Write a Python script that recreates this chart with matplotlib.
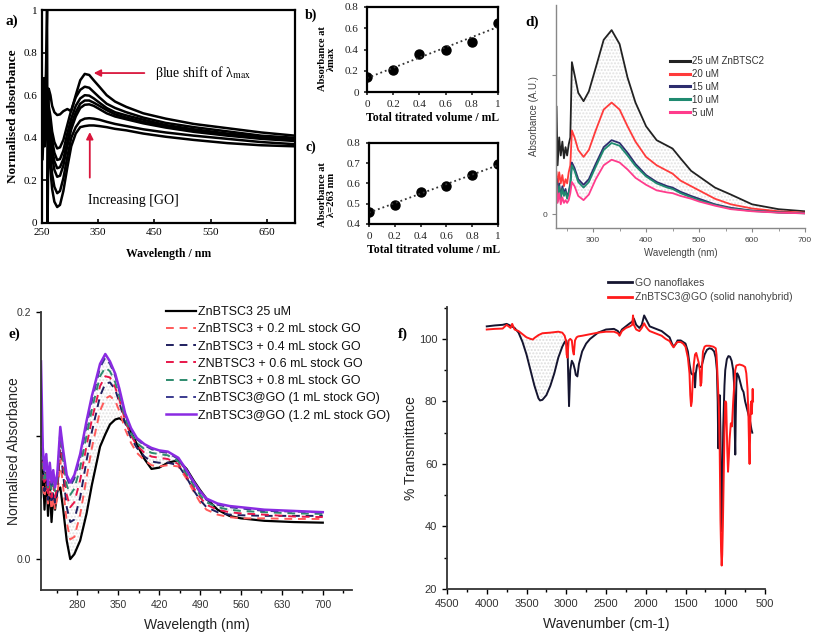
import numpy as np
import matplotlib
matplotlib.use("Agg")
import matplotlib.pyplot as plt

W, H = 813, 639
fig = plt.figure(figsize=(W / 100, H / 100), dpi=100)
plt.rcParams['mathtext.fontset'] = 'stix'
SERIF = ['Liberation Serif', 'DejaVu Serif']
SANS = ['Liberation Sans', 'DejaVu Sans']


def ax_px(l, t, r, b):
    return fig.add_axes([l / W, 1 - b / H, (r - l) / W, (b - t) / H])

# ---------------- panel a data ----------------
a_wl = [251, 253, 255, 257, 259, 260, 262, 265, 268, 272, 277, 282, 288, 295, 302, 310, 318,
        326, 334, 342, 352, 365, 380, 400, 430, 470, 520, 580, 640, 700]
a_curves = [
    [0.55, 0.68, 0.60, 0.70, 1.00, 0.00, 0.63, 0.60, 0.55, 0.52, 0.507, 0.51, 0.525, 0.535, 0.525, 0.60, 0.67,
     0.70, 0.695, 0.67, 0.64, 0.60, 0.57, 0.545, 0.515, 0.49, 0.465, 0.445, 0.425, 0.41],
    [0.50, 0.62, 0.55, 0.66, 0.60, 0.58, 0.55, 0.50, 0.43, 0.38, 0.35, 0.355, 0.39, 0.46, 0.53, 0.59, 0.625,
     0.64, 0.635, 0.615, 0.59, 0.56, 0.54, 0.52, 0.495, 0.47, 0.45, 0.43, 0.41, 0.40],
    [0.45, 0.58, 0.50, 0.62, 0.56, 0.55, 0.52, 0.46, 0.39, 0.33, 0.296, 0.30, 0.34, 0.42, 0.49, 0.55, 0.585,
     0.60, 0.598, 0.585, 0.565, 0.54, 0.52, 0.505, 0.485, 0.46, 0.44, 0.42, 0.405, 0.395],
    [0.42, 0.55, 0.47, 0.60, 0.53, 0.52, 0.49, 0.43, 0.35, 0.29, 0.257, 0.262, 0.30, 0.38, 0.46, 0.52, 0.56,
     0.575, 0.575, 0.565, 0.55, 0.53, 0.51, 0.495, 0.475, 0.455, 0.435, 0.415, 0.40, 0.39],
    [0.40, 0.52, 0.45, 0.57, 0.50, 0.49, 0.46, 0.40, 0.31, 0.25, 0.217, 0.222, 0.27, 0.36, 0.44, 0.50, 0.54,
     0.555, 0.557, 0.55, 0.535, 0.515, 0.50, 0.487, 0.468, 0.448, 0.428, 0.41, 0.395, 0.385],
    [0.35, 0.48, 0.40, 0.52, 0.45, 0.44, 0.40, 0.32, 0.23, 0.17, 0.14, 0.15, 0.21, 0.31, 0.40, 0.45, 0.48,
     0.49, 0.492, 0.49, 0.485, 0.475, 0.465, 0.455, 0.44, 0.425, 0.41, 0.395, 0.38, 0.37],
    [0.30, 0.45, 0.36, 0.48, 0.40, 0.39, 0.34, 0.25, 0.16, 0.10, 0.075, 0.085, 0.15, 0.26, 0.36, 0.42, 0.45,
     0.455, 0.458, 0.458, 0.455, 0.45, 0.442, 0.435, 0.42, 0.405, 0.39, 0.375, 0.365, 0.36],
]

# ---------------- panel b / c data ----------------
vol = [0, 0.2, 0.4, 0.6, 0.8, 1.0]
abs_max = [0.14, 0.21, 0.36, 0.40, 0.47, 0.65]
abs_263 = [0.46, 0.495, 0.56, 0.59, 0.64, 0.695]

# ---------------- panel d data ----------------
d_wl = [231, 233, 236, 239, 242, 245, 248, 251, 254, 257, 260, 265, 272, 282, 292, 305, 320, 335, 350,
        365, 380, 400, 420, 440, 450, 465, 485, 500, 530, 560, 600, 650, 700]
d_labels = ['25 uM ZnBTSC2', '20 uM', '15 uM', '10 uM', '5 uM']
d_colors = ['#222222', '#ff3b3b', '#2d2d6e', '#1f8a70', '#ff3c8c']
d_series = [
    [0.77, 0.35, 0.55, 0.42, 0.52, 0.40, 0.48, 0.42, 0.50, 0.55, 1.09, 1.00, 0.87, 0.81, 0.88, 1.05, 1.25,
     1.32, 1.22, 0.98, 0.80, 0.63, 0.53, 0.49, 0.47, 0.40, 0.31, 0.27, 0.19, 0.14, 0.07, 0.035, 0.02],
    [0.30, 0.20, 0.30, 0.22, 0.28, 0.20, 0.25, 0.22, 0.30, 0.35, 0.60, 0.55, 0.46, 0.41, 0.46, 0.60, 0.75,
     0.80, 0.75, 0.63, 0.52, 0.41, 0.35, 0.31, 0.29, 0.24, 0.20, 0.17, 0.11, 0.07, 0.04, 0.02, 0.01],
    [0.25, 0.10, 0.22, 0.12, 0.20, 0.15, 0.18, 0.12, 0.16, 0.22, 0.37, 0.33, 0.25, 0.21, 0.25, 0.36, 0.48,
     0.53, 0.51, 0.44, 0.36, 0.28, 0.23, 0.20, 0.19, 0.16, 0.13, 0.11, 0.07, 0.045, 0.025, 0.012, 0.006],
    [0.22, 0.09, 0.20, 0.11, 0.18, 0.13, 0.16, 0.11, 0.15, 0.20, 0.35, 0.31, 0.23, 0.19, 0.23, 0.34, 0.46,
     0.51, 0.49, 0.42, 0.345, 0.27, 0.22, 0.19, 0.18, 0.15, 0.12, 0.10, 0.065, 0.04, 0.022, 0.011, 0.005],
    [0.20, 0.08, 0.15, 0.07, 0.12, 0.08, 0.10, 0.08, 0.10, 0.15, 0.23, 0.20, 0.13, 0.10, 0.14, 0.25, 0.35,
     0.39, 0.37, 0.32, 0.26, 0.21, 0.17, 0.155, 0.15, 0.13, 0.11, 0.09, 0.06, 0.035, 0.02, 0.01, 0.005],
]

# ---------------- panel e data ----------------
e_wl = [218, 221, 224, 227, 230, 233, 236, 239, 242, 246, 251, 256, 262, 268, 275, 285, 296, 305, 319,
        328, 336, 345, 352, 362, 372, 382, 395, 407, 420, 435, 453, 467, 480, 490, 501, 520, 540, 560,
        600, 650, 700]
e_labels = ['ZnBTSC3 25 uM', 'ZnBTSC3 + 0.2 mL stock GO', 'ZnBTSC3 + 0.4 mL stock GO',
            'ZNBTSC3 + 0.6 mL stock GO', 'ZnBTSC3 + 0.8 mL stock GO',
            'ZnBTSC3@GO (1 mL stock GO)', 'ZnBTSC3@GO (1.2 mL stock GO)']
e_colors = ['#000000', '#ff5a5a', '#1f1f5f', '#e8174a', '#2e8b6e', '#3b3b8f', '#8a2be2']
e_series = [
    [0.050, 0.080, 0.040, 0.070, 0.035, 0.062, 0.030, 0.052, 0.040, 0.055, 0.058, 0.040, 0.015, 0.000,
     0.004, 0.015, 0.037, 0.060, 0.091, 0.101, 0.109, 0.113, 0.114, 0.111, 0.103, 0.093, 0.081, 0.073,
     0.074, 0.078, 0.080, 0.073, 0.063, 0.056, 0.049, 0.040, 0.035, 0.033, 0.031, 0.030, 0.0295],
    [0.070, 0.060, 0.050, 0.062, 0.045, 0.055, 0.040, 0.050, 0.040, 0.050, 0.080, 0.058, 0.030, 0.016,
     0.018, 0.036, 0.066, 0.090, 0.120, 0.130, 0.132, 0.128, 0.120, 0.105, 0.094, 0.086, 0.080, 0.076,
     0.075, 0.076, 0.075, 0.065, 0.054, 0.046, 0.040, 0.036, 0.034, 0.033, 0.033, 0.0325, 0.0325],
    [0.080, 0.070, 0.055, 0.068, 0.048, 0.060, 0.045, 0.055, 0.045, 0.055, 0.090, 0.068, 0.042, 0.030,
     0.032, 0.050, 0.080, 0.103, 0.132, 0.142, 0.143, 0.137, 0.127, 0.110, 0.098, 0.090, 0.083, 0.079,
     0.078, 0.078, 0.076, 0.066, 0.055, 0.048, 0.042, 0.038, 0.036, 0.0355, 0.035, 0.035, 0.035],
    [0.090, 0.075, 0.060, 0.072, 0.052, 0.065, 0.050, 0.060, 0.050, 0.060, 0.095, 0.075, 0.052, 0.042,
     0.046, 0.064, 0.092, 0.113, 0.140, 0.148, 0.147, 0.139, 0.129, 0.112, 0.100, 0.092, 0.086, 0.083,
     0.082, 0.081, 0.077, 0.067, 0.057, 0.050, 0.044, 0.040, 0.038, 0.037, 0.036, 0.0345, 0.034],
    [0.100, 0.080, 0.065, 0.078, 0.058, 0.070, 0.055, 0.065, 0.055, 0.065, 0.100, 0.080, 0.060, 0.052,
     0.057, 0.074, 0.100, 0.121, 0.148, 0.155, 0.152, 0.143, 0.132, 0.114, 0.102, 0.094, 0.089, 0.086,
     0.085, 0.084, 0.079, 0.069, 0.059, 0.052, 0.046, 0.042, 0.040, 0.039, 0.038, 0.037, 0.0366],
    [0.120, 0.085, 0.070, 0.080, 0.062, 0.072, 0.060, 0.068, 0.060, 0.068, 0.104, 0.085, 0.066, 0.059,
     0.065, 0.082, 0.108, 0.128, 0.155, 0.163, 0.158, 0.148, 0.136, 0.117, 0.105, 0.097, 0.092, 0.089,
     0.087, 0.086, 0.081, 0.071, 0.061, 0.054, 0.048, 0.044, 0.042, 0.041, 0.039, 0.0385, 0.0378],
    [0.160, 0.090, 0.072, 0.085, 0.060, 0.078, 0.062, 0.072, 0.058, 0.070, 0.107, 0.088, 0.068, 0.062,
     0.068, 0.085, 0.112, 0.132, 0.158, 0.166, 0.160, 0.150, 0.138, 0.118, 0.106, 0.098, 0.093, 0.090,
     0.088, 0.087, 0.082, 0.072, 0.062, 0.055, 0.049, 0.045, 0.043, 0.042, 0.040, 0.039, 0.038],
]

# ---------------- panel f data ----------------
go_wn = [4000, 3900, 3800, 3750, 3700, 3650, 3600, 3550, 3500, 3450, 3400, 3350, 3330, 3300, 3250, 3200,
         3150, 3100, 3050, 3020, 3000, 2985, 2975, 2965, 2950, 2930, 2910, 2890, 2880, 2860, 2840, 2800,
         2750, 2700, 2600, 2500, 2400, 2350, 2330, 2300, 2250, 2200, 2170, 2150, 2120, 2080, 2050, 2030,
         2020, 2000, 1970, 1950, 1900, 1850, 1800, 1750, 1700, 1670, 1650, 1620, 1600, 1560, 1530, 1500,
         1470, 1450, 1430, 1410, 1390, 1380, 1370, 1355, 1340, 1320, 1300, 1280, 1260, 1230, 1200, 1170,
         1140, 1120, 1105, 1095, 1088, 1080, 1070, 1060, 1050, 1042, 1035, 1025, 1010, 1000, 980, 960,
         940, 920, 900, 890, 880, 874, 868, 860, 850, 830, 810, 790, 770, 750, 730, 710, 690, 670, 660]
go_T = [104, 104.3, 104.5, 104.8, 104.2, 103.5, 102, 99, 95, 90, 85, 81, 80.3, 80.5, 82, 85,
        89, 94, 97.5, 99, 99.5, 98, 88, 78.5, 90, 93, 92, 90, 88.5, 88, 92, 96,
        98.5, 100, 102, 103, 103.2, 102.5, 101.5, 103, 104, 105, 105.5, 106.5, 104.5, 103.5, 104.5, 106.5,
        107.5, 106.5, 105, 104, 103.5, 103, 102.5, 101.5, 100.5, 98.5, 97.5, 98.5, 99.5, 99.5, 99, 98.5,
        96, 92, 89, 88.5, 89, 84.5, 89, 91.5, 92, 91, 91, 93, 95, 96.5, 97, 96.8,
        96, 94, 90, 80, 65, 75, 82, 70, 45, 38.5, 55, 72, 85, 90, 93.5, 94.5,
        94.3, 93, 90, 86, 70, 63, 75, 86, 89, 88, 86, 84, 83, 80, 78, 76, 74, 71, 70]
hy_wn = [4000, 3900, 3800, 3750, 3700, 3680, 3650, 3600, 3550, 3500, 3450, 3420, 3400, 3350, 3300, 3200,
         3100, 3050, 3020, 3005, 2995, 2985, 2970, 2950, 2930, 2915, 2905, 2890, 2870, 2850, 2800, 2700,
         2600, 2500, 2400, 2350, 2330, 2300, 2250, 2200, 2170, 2160, 2150, 2120, 2080, 2050, 2020, 2000,
         1970, 1950, 1900, 1850, 1800, 1750, 1700, 1670, 1650, 1620, 1600, 1560, 1530, 1500, 1470, 1450,
         1440, 1430, 1420, 1410, 1395, 1380, 1365, 1350, 1335, 1320, 1310, 1300, 1290, 1280, 1260, 1240,
         1200, 1150, 1120, 1110, 1100, 1090, 1080, 1070, 1060, 1052, 1045, 1038, 1030, 1020, 1010, 1000,
         995, 988, 975, 965, 955, 945, 930, 916, 900, 885, 874, 860, 820, 780, 750, 735, 720, 708, 700,
         694, 688, 680, 672, 666, 660, 655, 650]
hy_T = [103, 103.2, 103.3, 104.5, 103.5, 104.8, 103, 102.5, 101.5, 100.5, 100, 99.8, 100.3, 101.2, 101.8, 102,
        102.3, 102, 101, 99.5, 95, 94, 99.5, 100, 99.5, 96, 95, 99.5, 100.5, 100.8, 101, 101.5,
        102, 102.3, 102.3, 101.8, 101, 102.5, 103.5, 104, 104.5, 107.5, 104.5, 103, 102.5, 103.5, 105, 104,
        103, 102.5, 102, 101.5, 101, 100, 99.3, 98, 97.3, 98.5, 99, 99, 98.5, 97.5, 94, 89,
        82, 78.5, 80, 86, 92, 95, 95.5, 94, 92.5, 90, 85, 86, 92, 96, 97.5, 97.8,
        97.8, 97.5, 97, 95, 90, 84, 78, 65, 42, 32, 27.5, 31, 40, 55, 70, 80,
        80, 79.5, 65, 57.5, 62, 68, 73, 72, 80, 86, 90, 91.5, 91.8, 91.5, 91, 89, 84, 75, 65,
        60, 68, 79, 80, 76, 80, 84, 80]

# ================= panel a =================
ax = ax_px(42, 10, 295, 223)
for c in a_curves:
    ax.plot(a_wl, c, color='black', lw=1.8)
ax.set_xlim(250, 700)
ax.set_ylim(0, 1)
ax.set_xticks([250, 350, 450, 550, 650])
ax.set_yticks([0, 0.2, 0.4, 0.6, 0.8, 1.0])
ax.set_yticklabels(['0', '0.2', '0.4', '0.6', '0.8', '1'])
for s in ax.spines.values():
    s.set_linewidth(1.6)
ax.tick_params(direction='in', length=3, width=1.2, labelsize=8)
for lab in ax.get_xticklabels() + ax.get_yticklabels():
    lab.set_family(SERIF)
ax.set_xlabel('Wavelength / nm', family=SERIF, fontweight='bold', fontsize=8.5, labelpad=8)
ax.set_ylabel('Normalised absorbance', family=SERIF, fontweight='bold', fontsize=9.5)
ax.yaxis.set_label_coords((19 - 42) / 253, 0.5)
red = '#d9163c'
ax.annotate('', xy=(337, 0.704), xytext=(437, 0.704),
            arrowprops=dict(arrowstyle='-|>', color=red, lw=1.3, mutation_scale=10))
ax.text(451, 0.704, 'βlue shift of λ$_{\\rm max}$', family=SERIF, fontsize=10, va='center', ha='left')
ax.annotate('', xy=(335, 0.44), xytext=(335, 0.20),
            arrowprops=dict(arrowstyle='-|>', color=red, lw=1.3, mutation_scale=10))
ax.text(332, 0.105, 'Increasing [GO]', family=SERIF, fontsize=10, va='center', ha='left')
fig.text(5 / W, 1 - 21 / H, 'a)', family=SERIF, fontweight='bold', fontsize=11, va='center')

# ================= panel b & c =================
def titr(ax, y, ylim, yticks, ylab, left, w, ycen):
    ax.plot(vol, y, 'o', color='black', ms=6.5)
    p = np.polyfit(vol, y, 1)
    xs = np.array([0, 1.0])
    ax.plot(xs, np.polyval(p, xs), ':', color='#333333', lw=1.3)
    ax.set_xlim(0, 1)
    ax.set_ylim(*ylim)
    ax.set_xticks(vol)
    ax.set_xticklabels(['0', '0.2', '0.4', '0.6', '0.8', '1'])
    ax.set_yticks(yticks)
    ax.set_yticklabels([('%g' % t) if t != 0 else '0' for t in yticks])
    for s in ax.spines.values():
        s.set_linewidth(1.6)
    ax.tick_params(direction='out', length=2.5, width=1.2, labelsize=8, colors='#222222')
    for lab in ax.get_xticklabels() + ax.get_yticklabels():
        lab.set_family(SERIF)
    ax.set_xlabel('Total titrated volume / mL', family=SERIF, fontweight='bold', fontsize=8.5, labelpad=2)
    ax.set_ylabel(ylab, family=SERIF, fontweight='bold', fontsize=7.6, linespacing=1.0)
    ax.yaxis.set_label_coords((336 - left) / w, ycen)

axb = ax_px(367, 7, 498, 92)
titr(axb, abs_max, (0, 0.8), [0, 0.2, 0.4, 0.6, 0.8], 'Absorbance at\nλmax', 367, 131, 0.39)
axc = ax_px(369, 143, 498, 224)
titr(axc, abs_263, (0.4, 0.8), [0.4, 0.5, 0.6, 0.7, 0.8], 'Absorbance at\nλ=263 nm', 369, 129, 0.36)
fig.text(305 / W, 1 - 15 / H, 'b)', family=SERIF, fontweight='bold', fontsize=10, va='center')
fig.text(305 / W, 1 - 147 / H, 'c)', family=SERIF, fontweight='bold', fontsize=10, va='center')

# ================= panel d =================
axd = ax_px(556, 5, 805, 228)
dw = np.array(d_wl)
m = dw >= 257
axd.fill_between(dw[m], np.array(d_series[4])[m], np.array(d_series[0])[m],
                 facecolor='none', edgecolor='#e2e2e2', hatch='.....', lw=0)
for y, c, lab in zip(d_series, d_colors, d_labels):
    axd.plot(d_wl, y, color=c, lw=1.3, label=lab)
axd.set_xlim(230, 700)
axd.set_ylim(-0.1, 1.5)
axd.set_xticks([300, 400, 500, 600, 700])
axd.set_xticks([250, 350, 450, 550, 650], minor=True)
axd.set_yticks([0, 1])
axd.set_yticklabels(['0', ''])
for k in ['top', 'right']:
    axd.spines[k].set_visible(False)
for k in ['left', 'bottom']:
    axd.spines[k].set_color('#888888')
    axd.spines[k].set_linewidth(1.0)
axd.tick_params(which='both', direction='out', length=3, color='#888888', labelsize=6, labelcolor='#444444')
axd.tick_params(which='minor', length=2)
for lab in axd.get_xticklabels() + axd.get_yticklabels():
    lab.set_family(SANS)
axd.set_xlabel('Wavelength (nm)', family=SANS, fontsize=7, color='#444444', labelpad=3)
axd.set_ylabel('Absorbance (A.U.)', family=SANS, fontsize=7, color='#444444', labelpad=2)
leg = axd.legend(loc='upper left', bbox_to_anchor=(670 / W, 1 - 56 / H), bbox_transform=fig.transFigure,
                 frameon=False, handlelength=2.1, handletextpad=0.2, labelspacing=0.3,
                 borderpad=0, borderaxespad=0, prop={'family': SANS, 'size': 7})
for t in leg.get_texts():
    t.set_color('#333333')
for l in leg.get_lines():
    l.set_linewidth(2.2)
fig.text(525 / W, 1 - 22 / H, 'd)', family=SERIF, fontweight='bold', fontsize=11, va='center')

# ================= panel e =================
axe = ax_px(41, 312, 352, 590)
ew = np.array(e_wl)
m = (ew >= 262) & (ew <= 560)
axe.fill_between(ew[m], np.array(e_series[0])[m], np.array(e_series[6])[m],
                 facecolor='none', edgecolor='#e2e2e2', hatch='.....', lw=0)
for i, (y, c, lab) in enumerate(zip(e_series, e_colors, e_labels)):
    if i == 0:
        axe.plot(e_wl, y, color=c, lw=1.6, label=lab)
    elif i == 6:
        axe.plot(e_wl, y, color=c, lw=1.8, label=lab)
    else:
        axe.plot(e_wl, y, color=c, lw=1.4, ls=(0, (4, 3)), label=lab)
axe.set_xlim(218, 750)
axe.set_ylim(-0.025, 0.2)
axe.set_xticks([280, 350, 420, 490, 560, 630, 700])
axe.set_xticks([245, 315, 385, 455, 525, 595, 665, 735], minor=True)
axe.set_yticks([0.0, 0.1, 0.2])
axe.set_yticklabels(['0.0', '', '0.2'])
for k in ['top', 'right']:
    axe.spines[k].set_visible(False)
for k in ['left', 'bottom']:
    axe.spines[k].set_linewidth(1.3)
    axe.spines[k].set_color('#333333')
axe.tick_params(which='both', direction='out', length=3.5, width=1.0, labelsize=7.5, labelcolor='#333333')
axe.tick_params(which='minor', length=2.5)
for lab in axe.get_xticklabels() + axe.get_yticklabels():
    lab.set_family(SANS)
axe.set_xlabel('Wavelength (nm)', family=SANS, fontsize=10, labelpad=6, color='#222222')
axe.set_ylabel('Normalised Absorbance', family=SANS, fontsize=10, color='#222222')
axe.yaxis.set_label_coords((21 - 41) / 311, 0.5)
leg = axe.legend(loc='upper left', bbox_to_anchor=(166 / W, 1 - 306 / H), bbox_transform=fig.transFigure,
                 frameon=False, handlelength=2.4, handletextpad=0.15, labelspacing=0.42,
                 borderpad=0, borderaxespad=0, prop={'family': SANS, 'size': 9})
for t in leg.get_texts():
    t.set_color('#111111')
fig.text(8 / W, 1 - 334 / H, 'e)', family=SERIF, fontweight='bold', fontsize=11, va='center')

# ================= panel f =================
axf = ax_px(447, 307, 765, 589)
gw = np.array(go_wn[::-1])
gT = np.array(go_T[::-1])
hT_on_g = np.interp(gw, np.array(hy_wn[::-1]), np.array(hy_T[::-1]))
m = (gw >= 3020) & (gw <= 3620)
axf.fill_between(gw[m], gT[m], hT_on_g[m], facecolor='none', edgecolor='#dedede', hatch='.....', lw=0)
axf.plot(go_wn, go_T, color='#151530', lw=1.4, label='GO nanoflakes')
axf.plot(hy_wn, hy_T, color='#ff1a1a', lw=1.4, label='ZnBTSC3@GO (solid nanohybrid)')
axf.set_xlim(4500, 500)
axf.set_ylim(20, 110.2)
axf.set_xticks([4500, 4000, 3500, 3000, 2500, 2000, 1500, 1000, 500])
axf.set_xticks(np.arange(4250, 500, -500), minor=True)
axf.set_yticks([20, 40, 60, 80, 100])
axf.set_yticks([30, 50, 70, 90, 110], minor=True)
for k in ['top', 'right']:
    axf.spines[k].set_visible(False)
for k in ['left', 'bottom']:
    axf.spines[k].set_linewidth(1.3)
    axf.spines[k].set_color('#333333')
axf.tick_params(which='both', direction='out', length=3.5, width=1.0, labelsize=8, labelcolor='#333333')
axf.tick_params(which='minor', length=2.5)
for lab in axf.get_xticklabels() + axf.get_yticklabels():
    lab.set_family(SANS)
axf.set_xlabel('Wavenumber (cm-1)', family=SANS, fontsize=10, labelpad=6, color='#222222')
axf.set_ylabel('% Transmittance', family=SANS, fontsize=10, color='#222222')
axf.yaxis.set_label_coords((418 - 447) / 318, 0.5)
leg = axf.legend(loc='upper left', bbox_to_anchor=(608 / W, 1 - 278 / H), bbox_transform=fig.transFigure,
                 frameon=False, handlelength=2.3, handletextpad=0.25, labelspacing=0.4,
                 borderpad=0, borderaxespad=0, prop={'family': SANS, 'size': 7.5})
for t in leg.get_texts():
    t.set_color('#444444')
for l in leg.get_lines():
    l.set_linewidth(2)
fig.text(398 / W, 1 - 334 / H, 'f)', family=SERIF, fontweight='bold', fontsize=11, va='center')

fig.savefig('out.png', dpi=100)
